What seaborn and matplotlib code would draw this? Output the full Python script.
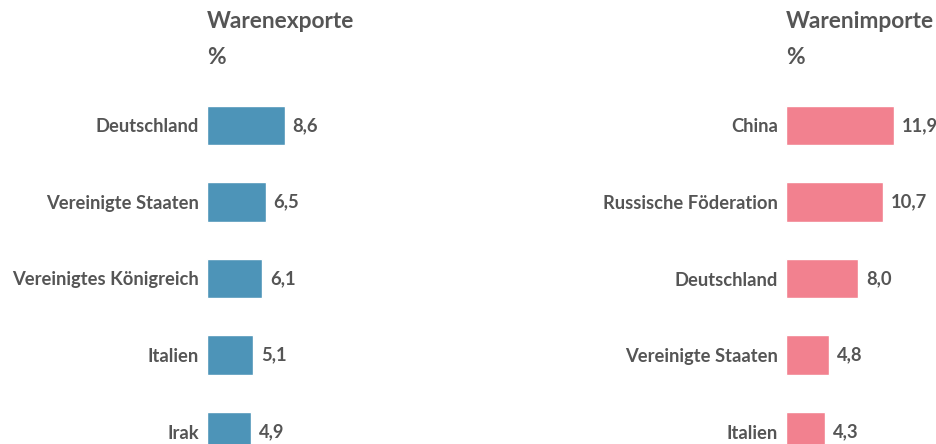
import matplotlib
matplotlib.use("Agg")
import matplotlib.pyplot as plt
import seaborn as sns
import pandas as pd

export_countries = ["Deutschland", "Vereinigte Staaten", "Vereinigtes Königreich", "Italien", "Irak"]
export_values = [8.6, 6.5, 6.1, 5.1, 4.9]
import_countries = ["China", "Russische Föderation", "Deutschland", "Vereinigte Staaten", "Italien"]
import_values = [11.9, 10.7, 8.0, 4.8, 4.3]

sns.set_theme(style="white")
plt.rcParams['font.family'] = ['Lato', 'DejaVu Sans']
textcol = "#555555"
fontsize = 13.2

W, H = 937, 444
fig = plt.figure(figsize=(W / 100, H / 100), dpi=100)

px_per_unit = 9.05
xmax = 15
top_px = 87.25
bot_px = 469.75


def panel(left_px, countries, values, color, title):
    ax = fig.add_axes([left_px / W, 1 - bot_px / H, xmax * px_per_unit / W, (bot_px - top_px) / H])
    df = pd.DataFrame({"land": countries, "wert": values})
    sns.barplot(data=df, x="wert", y="land", ax=ax, color=color, width=0.51,
                saturation=1, orient="h")
    ax.set_xlim(0, xmax)
    ax.set_xlabel("")
    ax.set_ylabel("")
    ax.set_xticks([])
    sns.despine(ax=ax, left=True, bottom=True)
    ax.tick_params(axis="y", length=0, pad=6)
    for lab in ax.get_yticklabels():
        lab.set_fontsize(fontsize)
        lab.set_fontweight("bold")
        lab.set_color(textcol)
    for i, v in enumerate(values):
        ax.annotate(f"{v:.1f}".replace(".", ","), (v, i), xytext=(5.5, 0),
                    textcoords="offset points", va="center", ha="left",
                    fontsize=fontsize, fontweight="bold", color=textcol)
    fig.text(left_px / W, 1 - 22 / H, title, ha="left", va="center",
             fontsize=16.4, fontweight="bold", color=textcol)
    fig.text(left_px / W, 1 - 57 / H, "%", ha="left", va="center",
             fontsize=16.4, fontweight="bold", color=textcol)
    ax.patch.set_alpha(0)
    return ax


panel(207, export_countries, export_values, "#4d94b8", "Warenexporte")
panel(786, import_countries, import_values, "#f2818f", "Warenimporte")

fig.savefig("out.png", dpi=100)
